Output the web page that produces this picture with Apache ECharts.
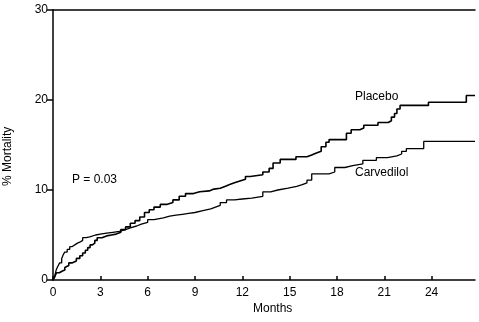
<!DOCTYPE html>
<html><head><meta charset="utf-8">
<script src="https://cdn.jsdelivr.net/npm/echarts@6/dist/echarts.min.js"></script>
<style>html,body{margin:0;padding:0;background:#fff}#c{width:479px;height:322px}</style>
</head><body><div id="c"></div>
<script>
var xTicks = [0, 3, 6, 9, 12, 15, 18, 21, 24];
var yTicks = [0, 10, 20, 30];
var placebo = [[0,0],[0.1,0.3],[0.22,0.8],[0.4,1.0],[0.6,1.1],[0.75,1.4],[0.85,1.6],[1.0,1.9],[1.2,2.1],[1.48,2.4],[1.7,2.7],[1.88,3.0],[2.05,3.3],[2.2,3.6],[2.35,3.9],[2.5,4.1],[2.65,4.4],[2.8,4.7],[3.1,4.9],[3.4,5.0],[3.7,5.1],[4.0,5.3],[4.3,5.6],[4.6,5.9],[4.9,6.3],[5.2,6.6],[5.5,7.0],[5.8,7.5],[6.1,7.8],[6.4,8.1],[6.8,8.4],[7.2,8.6],[7.6,8.9],[8.0,9.3],[8.4,9.6],[8.9,9.8],[9.3,9.9],[9.9,10.1],[10.2,10.2],[10.6,10.4],[10.9,10.6],[11.2,10.8],[11.5,11.0],[11.85,11.2],[12.2,11.5],[12.5,11.7],[13.3,12.0],[13.7,12.4],[13.95,13.0],[14.4,13.4],[15.4,13.7],[16.1,13.9],[16.4,14.1],[16.7,14.3],[17.0,14.8],[17.3,15.3],[17.5,15.6],[18.6,16.3],[18.9,16.7],[19.45,16.9],[19.7,17.2],[20.6,17.5],[21.25,17.7],[21.45,18.1],[21.65,18.5],[21.8,19.0],[22.0,19.4],[23.8,19.75],[26.2,20.5],[26.75,20.5]];
var carvedilol = [[0,0],[0.1,0.4],[0.2,1.1],[0.3,1.5],[0.42,1.9],[0.55,2.4],[0.65,2.8],[0.74,3.1],[0.9,3.4],[1.06,3.7],[1.2,3.9],[1.38,4.1],[1.55,4.2],[1.7,4.4],[1.88,4.7],[2.1,4.8],[2.33,5.0],[2.7,5.1],[3.0,5.2],[3.4,5.3],[3.8,5.4],[4.2,5.6],[4.6,5.8],[4.9,6.0],[5.3,6.2],[5.6,6.4],[6.0,6.7],[6.4,6.9],[7.0,7.1],[7.4,7.2],[7.8,7.3],[8.2,7.4],[8.6,7.5],[9.0,7.7],[9.5,7.9],[10.0,8.1],[10.3,8.3],[10.6,8.6],[11.0,8.9],[11.5,9.0],[12.0,9.1],[12.6,9.3],[13.3,9.8],[13.8,10.0],[14.25,10.2],[14.9,10.4],[15.45,10.6],[15.8,10.8],[16.1,11.1],[16.4,11.8],[17.5,12.0],[17.86,12.5],[18.5,12.7],[19.0,12.9],[19.64,13.3],[20.5,13.6],[21.2,13.8],[21.8,14.0],[22.1,14.3],[22.4,14.6],[23.5,15.4],[26.75,15.4]];
var seriesNames = ['Placebo', 'Carvedilol'];
var xName = 'Months', yName = '% Mortality', pText = 'P = 0.03';

var FONT = "'Liberation Sans Narrow','Arial Narrow','Liberation Sans',sans-serif";
var chart = echarts.init(document.getElementById('c'), null, {renderer: 'canvas'});
chart.setOption({
  animation: false,
  backgroundColor: '#fff',
  grid: {left: 53, right: 4, top: 10, bottom: 42, containLabel: false},
  xAxis: [{
    type: 'value', min: 0, max: 26.75, interval: 3, position: 'bottom',
    axisLine: {show: true, lineStyle: {color: '#000', width: 1.5}},
    axisTick: {show: true, inside: true, length: 4, lineStyle: {color: '#000', width: 1.5}},
    axisLabel: {color: '#000', fontFamily: FONT, fontSize: 12, margin: 7, showMaxLabel: false,
      formatter: function (v) { return xTicks.indexOf(v) >= 0 ? String(v) : ''; }},
    splitLine: {show: false}
  }, {
    type: 'value', min: 0, max: 26.75, position: 'top',
    axisLine: {show: true, lineStyle: {color: '#000', width: 1.5}},
    axisTick: {show: false}, axisLabel: {show: false}, splitLine: {show: false}
  }],
  yAxis: {
    type: 'value', min: 0, max: 30, interval: 10,
    axisLine: {show: true, lineStyle: {color: '#000', width: 1.5}},
    axisTick: {show: true, inside: false, length: 6, lineStyle: {color: '#000', width: 1.5}},
    axisLabel: {color: '#000', fontFamily: FONT, fontSize: 12, margin: 5,
      formatter: function (v) { return yTicks.indexOf(v) >= 0 ? String(v) : ''; }},
    splitLine: {show: false}
  },
  series: [
    {name: seriesNames[0], type: 'line', step: 'end', data: placebo, symbol: 'none',
     lineStyle: {color: '#000', width: 1.6}},
    {name: seriesNames[1], type: 'line', step: 'end', data: carvedilol, symbol: 'none',
     lineStyle: {color: '#000', width: 1.3}}
  ],
  graphic: [
    {type: 'text', left: 355, top: 91, style: {text: seriesNames[0], fill: '#000', font: '12px ' + FONT}},
    {type: 'text', left: 355, top: 167, style: {text: seriesNames[1], fill: '#000', font: '12px ' + FONT}},
    {type: 'text', left: 72, top: 174, style: {text: pText, fill: '#000', font: '12px ' + FONT}},
    {type: 'text', left: 253, top: 303, style: {text: xName, fill: '#000', font: '12px ' + FONT}},
    {type: 'text', x: 2, y: 186, rotation: Math.PI / 2, style: {text: yName, fill: '#000', font: '12px ' + FONT}}
  ]
});
</script></body></html>
